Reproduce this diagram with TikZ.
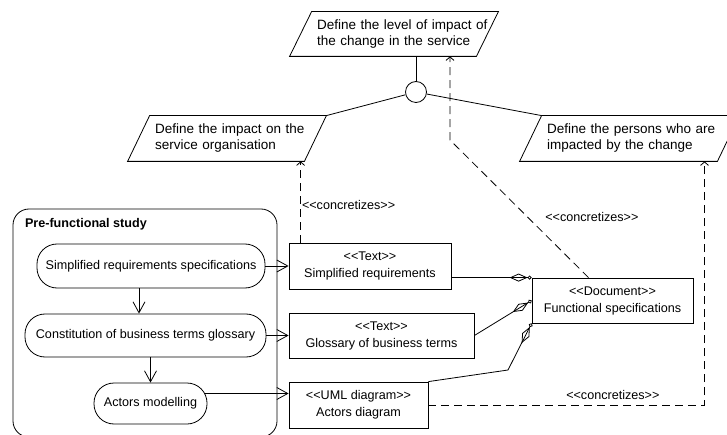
\documentclass[tikz,border=0pt]{standalone}
\usepackage{fontspec}
\setmainfont{Liberation Sans}[Ligatures=TeXOff]
\usetikzlibrary{arrows.meta, positioning}

\begin{document}
\begin{tikzpicture}[x=1pt, y=-1pt, line width=0.8pt,
  every node/.style={font=\fontsize{12.6}{17}\selectfont},
  para/.style={align=left, inner xsep=5pt, inner ysep=0pt, minimum height=45pt, font=\fontsize{13.5}{16}\selectfont},
  procbox/.style={draw, rounded corners=20pt, minimum height=44pt, inner xsep=8pt},
  artbox/.style={draw, align=center, minimum height=46pt, inner sep=2pt},
  flow/.style={-{Straight Barb[length=11pt, width=12pt]}},
  real/.style={dash pattern=on 8pt off 5pt, -{Straight Barb[length=3.5pt, width=8pt]}},
  agg/.style={-{Diamond[open, length=18pt, width=8pt] Circle[open, length=4pt]}}]
\useasboundingbox (0,0) rectangle (727,435);
\pgfmathsetmacro{\slant}{22}

\node[para, text width=176pt, minimum height=44pt] (lvl) at (405,34) {\mbox{Define the level of impact of}\\the change in the service};
\node[para, text width=166pt] (org) at (238,138.5) {Define the impact on the\\service organisation};
\node[para, text width=187pt] (per) at (640.5,138.5) {Define the persons who are\\impacted by the change};
\foreach \p in {lvl,org,per}
  \draw (\p.north west) -- (\p.north east) -- ([xshift=-\slant pt]\p.south east) -- ([xshift=-\slant pt]\p.south west) -- cycle;
\node[draw, circle, minimum size=21pt, inner sep=0pt] (junc) at (416,92) {};

\node[draw, rounded corners=16pt, minimum width=264pt, minimum height=228pt] (pfs) at (145,323) {};
\node[anchor=north west, font=\bfseries\fontsize{12.6}{16}\selectfont, inner sep=0pt] (pft) at ([xshift=12pt, yshift=-9pt]pfs.north west) {Pre-functional study};
\node[procbox, minimum width=228pt] (srs) at (151,266) {Simplified requirements specifications};
\node[procbox, minimum width=241pt, minimum height=43pt] (ctg) at (145.5,335.5) {Constitution of business terms glossary};
\node[procbox, minimum width=113pt, minimum height=41pt] (act) at (150.5,403.5) {Actors modelling};

\node[artbox, minimum width=162pt] (srq) at (370,266) {<<Text>>\\Simplified requirements};
\node[artbox, minimum width=185pt, minimum height=45pt] (glo) at (381.5,335.5) {<<Text>>\\Glossary of business terms};
\node[artbox, minimum width=139pt] (acd) at (358.5,405) {<<UML diagram>>\\Actors diagram};
\node[artbox, minimum width=161pt, minimum height=45pt] (fs) at (612.5,300.5) {<<Document>>\\Functional specifications};

\draw (lvl.south -| junc.north) -- (junc.north);
\draw (junc) -- (org.north east);
\draw (junc) -- (per.north west);

\draw[flow] ([xshift=-12pt]srs.south) -- ([xshift=-12pt]srs.south |- ctg.north);
\draw[flow] (ctg.south -| act.north) -- (act.north);
\draw[flow] (srs) -- (srq);
\draw[flow] (ctg) -- (glo);
\draw[flow] ([xshift=-2.5pt, yshift=10pt]act.east) -- ([yshift=10pt]act.east -| acd.west);

\draw[agg] (fs.north west -| srq.east) -- (fs.north west);
\draw[agg] (glo.east) -- (fs.west);
\coordinate (elbow) at (508,370);
\draw[agg] (acd.north east) -- (elbow) -- (fs.south west);

\draw[real] ([xshift=12pt]srq.north west) -- ([xshift=12pt]srq.north west |- org.south) node[pos=0.46, right, inner sep=1pt] {<<concretizes>>};
\coordinate (kink) at (450,140);
\draw[real] ([xshift=-24pt]fs.north) -- (kink) node[pos=0.44, right=14pt] {<<concretizes>>} -- (kink |- lvl.south);
\draw[real] (acd.east) -| ([xshift=64pt]per.south) node[pos=0.334, above=2pt] {<<concretizes>>};
\end{tikzpicture}
\end{document}
